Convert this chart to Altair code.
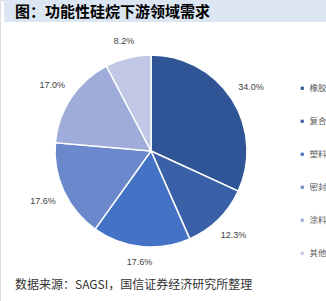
import altair as alt
import pandas as pd

categories = ["橡胶加工", "复合材料", "塑料改性", "密封胶", "涂料、粘合剂", "其他"]
values = [34.0, 12.3, 17.6, 17.6, 17.0, 8.2]
colors = ["#2f5597", "#3a60a8", "#4472c4", "#6a88cb", "#9facd9", "#c0c8e6"]
title_text = "图：功能性硅烷下游领域需求"
source_text = "数据来源：SAGSI，国信证券经济研究所整理"

CX, CY, R = 151, 151, 96

df = pd.DataFrame({"cat": categories, "value": values, "order": list(range(len(values)))})

base = alt.Chart(df)

arcs = base.mark_arc(outerRadius=R, stroke="white", strokeWidth=1.5).encode(
    theta=alt.Theta("value:Q", stack=True),
    order=alt.Order("order:Q"),
    color=alt.Color(
        "cat:N",
        scale=alt.Scale(domain=categories, range=colors),
        legend=alt.Legend(
            orient="none", legendX=298, legendY=84, title=None,
            symbolType="square", symbolSize=10, symbolStrokeWidth=0,
            labelFontSize=8.5, labelColor="#595959", labelFont="Noto Sans CJK SC",
            rowPadding=24, labelLimit=300, labelOffset=3,
        ),
    ),
    x=alt.value(CX),
    y=alt.value(CY),
)

labels = base.transform_joinaggregate(total="sum(value)").transform_window(
    cum="sum(value)", sort=[alt.SortField("order")], frame=[None, 0]
).transform_calculate(
    mid="(datum.cum - datum.value/2)/datum.total*2*PI",
).transform_calculate(
    lr=f"{R + 9} + 13*abs(sin(datum.mid)) + 5*abs(cos(datum.mid))",
).transform_calculate(
    lx=f"{CX} + datum.lr*sin(datum.mid)",
    ly=f"{CY} - datum.lr*cos(datum.mid)",
    label="format(datum.value, '.1f') + '%'",
).mark_text(
    font="Liberation Sans", fontSize=9, color="#404040", align="center", baseline="middle"
).encode(
    x=alt.X("lx:Q", scale=None),
    y=alt.Y("ly:Q", scale=None),
    text="label:N",
)

bar = alt.Chart(pd.DataFrame({"a": [0]})).mark_rect(color="#dce6f2").encode(
    x=alt.value(4), x2=alt.value(326), y=alt.value(0), y2=alt.value(22)
)
title = alt.Chart(pd.DataFrame({"t": [title_text]})).mark_text(
    font="Noto Sans CJK SC", fontSize=15, fontWeight="bold", color="#000000",
    align="left", baseline="middle"
).encode(x=alt.value(15), y=alt.value(12), text="t:N")
source = alt.Chart(pd.DataFrame({"t": [source_text]})).mark_text(
    font="Noto Sans CJK SC", fontSize=12, color="#333333",
    align="left", baseline="middle"
).encode(x=alt.value(15), y=alt.value(285), text="t:N")

chart = alt.layer(bar, title, arcs, labels, source).properties(
    width=326, height=301, padding=0, autosize="none"
).configure_view(stroke=None).configure(background="white")

chart.save("out.html", embed_options={"renderer": "svg", "actions": False})
